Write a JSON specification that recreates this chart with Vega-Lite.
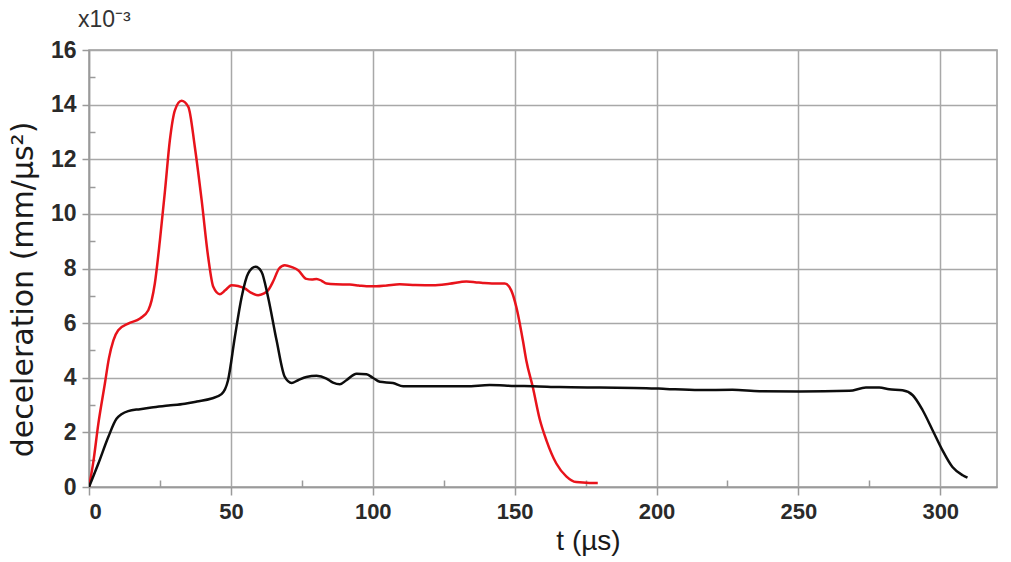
{
  "$schema": "https://vega.github.io/schema/vega-lite/v6.json",
  "width": 908,
  "height": 437,
  "autosize": {"type": "none"},
  "padding": {"left": 89, "top": 50, "right": 14, "bottom": 75},
  "background": "white",
  "title": {
    "text": "x10⁻³",
    "anchor": "start",
    "frame": "group",
    "dx": -11,
    "offset": 7,
    "font": "Liberation Sans",
    "fontSize": 23,
    "fontWeight": "normal",
    "color": "#333"
  },
  "config": {
    "view": {"stroke": "#9a9a9a", "strokeWidth": 1.5},
    "axis": {
      "labelFont": "Liberation Sans",
      "labelFontWeight": "bold",
      "labelColor": "#2a2a2a",
      "titleFont": "Liberation Sans",
      "titleFontWeight": "normal",
      "titleColor": "#1a1a1a",
      "gridColor": "#a8a8a8",
      "gridWidth": 1.5,
      "gridOpacity": 1,
      "domainColor": "#9a9a9a",
      "domainWidth": 1.5,
      "tickColor": "#9a9a9a",
      "tickWidth": 1.5
    }
  },
  "data": {
    "values": [
      {"t": 0, "a": 0, "series": "red"},
      {"t": 1.5, "a": 0.9, "series": "red"},
      {"t": 3.3, "a": 2.32, "series": "red"},
      {"t": 5.6, "a": 3.79, "series": "red"},
      {"t": 7, "a": 4.7, "series": "red"},
      {"t": 8.6, "a": 5.37, "series": "red"},
      {"t": 10.3, "a": 5.74, "series": "red"},
      {"t": 13.8, "a": 5.98, "series": "red"},
      {"t": 18, "a": 6.17, "series": "red"},
      {"t": 20.9, "a": 6.47, "series": "red"},
      {"t": 23.2, "a": 7.45, "series": "red"},
      {"t": 25, "a": 9.04, "series": "red"},
      {"t": 26.8, "a": 10.87, "series": "red"},
      {"t": 28.5, "a": 12.7, "series": "red"},
      {"t": 30.3, "a": 13.8, "series": "red"},
      {"t": 32.6, "a": 14.14, "series": "red"},
      {"t": 35, "a": 13.92, "series": "red"},
      {"t": 37.3, "a": 12.45, "series": "red"},
      {"t": 39.7, "a": 10.5, "series": "red"},
      {"t": 42, "a": 8.42, "series": "red"},
      {"t": 43.8, "a": 7.33, "series": "red"},
      {"t": 46.1, "a": 7.06, "series": "red"},
      {"t": 48, "a": 7.2, "series": "red"},
      {"t": 50.2, "a": 7.39, "series": "red"},
      {"t": 52.5, "a": 7.36, "series": "red"},
      {"t": 54.9, "a": 7.27, "series": "red"},
      {"t": 57, "a": 7.12, "series": "red"},
      {"t": 59.6, "a": 7.02, "series": "red"},
      {"t": 61.5, "a": 7.08, "series": "red"},
      {"t": 63.1, "a": 7.2, "series": "red"},
      {"t": 65, "a": 7.55, "series": "red"},
      {"t": 67, "a": 8.0, "series": "red"},
      {"t": 69, "a": 8.12, "series": "red"},
      {"t": 71.5, "a": 8.05, "series": "red"},
      {"t": 73.7, "a": 7.94, "series": "red"},
      {"t": 76.6, "a": 7.62, "series": "red"},
      {"t": 78.5, "a": 7.6, "series": "red"},
      {"t": 80.2, "a": 7.62, "series": "red"},
      {"t": 82, "a": 7.55, "series": "red"},
      {"t": 83.7, "a": 7.45, "series": "red"},
      {"t": 87, "a": 7.42, "series": "red"},
      {"t": 91.9, "a": 7.41, "series": "red"},
      {"t": 95, "a": 7.38, "series": "red"},
      {"t": 97.8, "a": 7.35, "series": "red"},
      {"t": 101.3, "a": 7.35, "series": "red"},
      {"t": 105, "a": 7.38, "series": "red"},
      {"t": 109.5, "a": 7.42, "series": "red"},
      {"t": 115, "a": 7.4, "series": "red"},
      {"t": 121.2, "a": 7.39, "series": "red"},
      {"t": 127, "a": 7.44, "series": "red"},
      {"t": 133, "a": 7.52, "series": "red"},
      {"t": 136, "a": 7.5, "series": "red"},
      {"t": 138.8, "a": 7.47, "series": "red"},
      {"t": 142, "a": 7.45, "series": "red"},
      {"t": 146.5, "a": 7.45, "series": "red"},
      {"t": 148.8, "a": 7.2, "series": "red"},
      {"t": 150.6, "a": 6.59, "series": "red"},
      {"t": 152.9, "a": 5.37, "series": "red"},
      {"t": 154.1, "a": 4.64, "series": "red"},
      {"t": 156.4, "a": 3.66, "series": "red"},
      {"t": 158.8, "a": 2.5, "series": "red"},
      {"t": 161.2, "a": 1.71, "series": "red"},
      {"t": 164.7, "a": 0.86, "series": "red"},
      {"t": 168.2, "a": 0.39, "series": "red"},
      {"t": 171.7, "a": 0.18, "series": "red"},
      {"t": 176.4, "a": 0.15, "series": "red"},
      {"t": 179.3, "a": 0.15, "series": "red"},
      {"t": 0, "a": 0, "series": "black"},
      {"t": 3.3, "a": 0.86, "series": "black"},
      {"t": 6.8, "a": 1.83, "series": "black"},
      {"t": 9.7, "a": 2.5, "series": "black"},
      {"t": 13.8, "a": 2.78, "series": "black"},
      {"t": 18, "a": 2.85, "series": "black"},
      {"t": 22, "a": 2.91, "series": "black"},
      {"t": 28, "a": 2.98, "series": "black"},
      {"t": 33.8, "a": 3.05, "series": "black"},
      {"t": 38, "a": 3.13, "series": "black"},
      {"t": 43.2, "a": 3.24, "series": "black"},
      {"t": 46.7, "a": 3.4, "series": "black"},
      {"t": 49, "a": 3.91, "series": "black"},
      {"t": 51.4, "a": 5.49, "series": "black"},
      {"t": 53.8, "a": 6.96, "series": "black"},
      {"t": 56.1, "a": 7.82, "series": "black"},
      {"t": 58.7, "a": 8.06, "series": "black"},
      {"t": 60.8, "a": 7.88, "series": "black"},
      {"t": 63.1, "a": 6.96, "series": "black"},
      {"t": 66.1, "a": 5.37, "series": "black"},
      {"t": 69, "a": 4.03, "series": "black"},
      {"t": 71.4, "a": 3.81, "series": "black"},
      {"t": 73.5, "a": 3.9, "series": "black"},
      {"t": 76.6, "a": 4.03, "series": "black"},
      {"t": 80.2, "a": 4.07, "series": "black"},
      {"t": 83.7, "a": 3.97, "series": "black"},
      {"t": 86, "a": 3.82, "series": "black"},
      {"t": 88.4, "a": 3.76, "series": "black"},
      {"t": 90.7, "a": 3.91, "series": "black"},
      {"t": 94.3, "a": 4.15, "series": "black"},
      {"t": 97.8, "a": 4.13, "series": "black"},
      {"t": 100, "a": 4.0, "series": "black"},
      {"t": 102.5, "a": 3.85, "series": "black"},
      {"t": 107.1, "a": 3.81, "series": "black"},
      {"t": 110.7, "a": 3.69, "series": "black"},
      {"t": 120, "a": 3.69, "series": "black"},
      {"t": 133, "a": 3.69, "series": "black"},
      {"t": 141.2, "a": 3.73, "series": "black"},
      {"t": 150, "a": 3.7, "series": "black"},
      {"t": 156.5, "a": 3.69, "series": "black"},
      {"t": 165.8, "a": 3.66, "series": "black"},
      {"t": 180, "a": 3.64, "series": "black"},
      {"t": 196.4, "a": 3.62, "series": "black"},
      {"t": 203.4, "a": 3.59, "series": "black"},
      {"t": 215.1, "a": 3.55, "series": "black"},
      {"t": 226.8, "a": 3.56, "series": "black"},
      {"t": 236.3, "a": 3.51, "series": "black"},
      {"t": 250.4, "a": 3.5, "series": "black"},
      {"t": 268, "a": 3.52, "series": "black"},
      {"t": 273.8, "a": 3.64, "series": "black"},
      {"t": 278.5, "a": 3.64, "series": "black"},
      {"t": 282, "a": 3.58, "series": "black"},
      {"t": 286.7, "a": 3.54, "series": "black"},
      {"t": 290.3, "a": 3.36, "series": "black"},
      {"t": 293.8, "a": 2.81, "series": "black"},
      {"t": 297.3, "a": 2.08, "series": "black"},
      {"t": 300.8, "a": 1.34, "series": "black"},
      {"t": 304.3, "a": 0.73, "series": "black"},
      {"t": 307.9, "a": 0.43, "series": "black"},
      {"t": 309.6, "a": 0.34, "series": "black"}
    ]
  },
  "layer": [
    {
      "mark": {"type": "line", "interpolate": "monotone", "strokeWidth": 2.5, "clip": true},
      "encoding": {
        "x": {
          "field": "t",
          "type": "quantitative",
          "scale": {"domain": [0, 320], "nice": false, "zero": false},
          "axis": {
            "values": [0, 50, 100, 150, 200, 250, 300],
            "tickSize": 8,
            "labelFontSize": 22,
            "labelPadding": 6,
            "title": "t (µs)",
            "titleFontSize": 28,
            "titleX": 499,
            "titleY": 40,
            "titleBaseline": "top"
          }
        },
        "y": {
          "field": "a",
          "type": "quantitative",
          "scale": {"domain": [0, 16], "nice": false},
          "axis": {
            "values": [0, 2, 4, 6, 8, 10, 12, 14, 16],
            "tickSize": 7,
            "labelFontSize": 23,
            "labelPadding": 6,
            "title": "deceleration (mm/µs²)",
            "titleFont": "DejaVu Sans",
            "titleFontSize": 30,
            "titleX": -51,
            "titleY": 239,
            "titleAngle": -90,
            "titleBaseline": "bottom",
            "titleAlign": "center"
          }
        },
        "color": {
          "field": "series",
          "type": "nominal",
          "scale": {"domain": ["red", "black"], "range": ["#e8131b", "#0d0d0d"]},
          "legend": null
        }
      }
    },
    {
      "mark": {"type": "line", "strokeOpacity": 0},
      "encoding": {
        "x": {
          "field": "t",
          "type": "quantitative",
          "axis": {
            "orient": "bottom",
            "values": [25, 75, 125, 175, 225, 275],
            "tickSize": -7,
            "labels": false,
            "grid": false,
            "domain": false,
            "title": null
          }
        },
        "y": {
          "field": "a",
          "type": "quantitative",
          "axis": {
            "orient": "left",
            "values": [1, 3, 5, 7, 9, 11, 13, 15],
            "tickSize": -6,
            "labels": false,
            "grid": false,
            "domain": false,
            "title": null
          }
        },
        "detail": {"field": "series", "type": "nominal"}
      }
    }
  ],
  "resolve": {"axis": {"x": "independent", "y": "independent"}}
}
